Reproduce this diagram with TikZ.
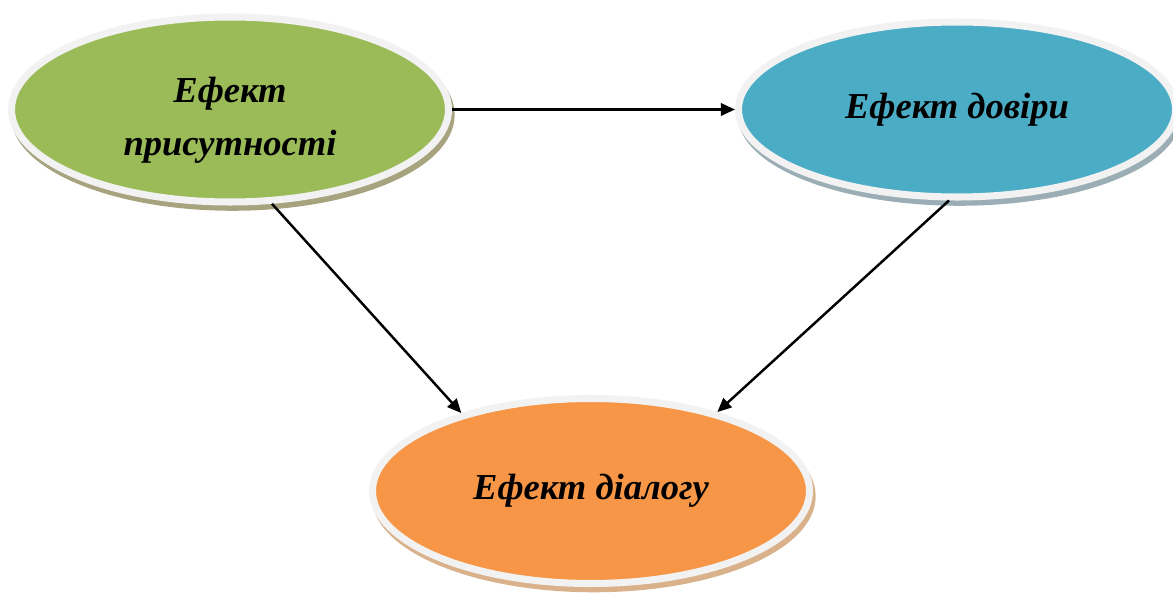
\documentclass[tikz,border=0pt]{standalone}
\usepackage{fontspec}
\setmainfont{Liberation Serif}
\usetikzlibrary{shapes.geometric,shadows,arrows.meta}

\begin{document}
\begin{tikzpicture}[>={Triangle[length=8pt,width=7pt]},line width=1.4pt,
  font=\fontsize{20.8}{28}\selectfont\bfseries\itshape,
  effect/.style={ellipse,draw=gray!10,line width=4pt,align=center,
    minimum width=8.74cm,minimum height=3.7cm},
  shade/.style={general shadow={fill=#1,draw=#1,line width=4pt,
    shadow xshift=1.5pt,shadow yshift=-3pt}}]
  \useasboundingbox (0,0) rectangle (23.46,11.86);

  % три ефекти
  \node[effect,shade={olive!30!gray!80},fill={rgb,255:red,155;green,187;blue,89}]
    (presence) at (4.60,9.67)
    {\raisebox{-6pt}[\height][\depth]{\shortstack{Ефект\\[8pt]присутності}}};
  \node[effect,shade={cyan!20!gray!80},fill={rgb,255:red,75;green,172;blue,198},
    minimum height=3.5cm] (trust) at (19.14,9.67) {Ефект довіри};
  \node[effect,shade={brown!60!white},fill={rgb,255:red,247;green,150;blue,70}]
    (dialogue) at (11.82,2.04) {Ефект діалогу};

  % зв'язки
  \draw[->] (presence.east) -- (trust.west);
  \draw[->] (presence.-66) -- (dialogue.149);
  \draw[->] (trust.-95) -- (dialogue.32);
\end{tikzpicture}
\end{document}
